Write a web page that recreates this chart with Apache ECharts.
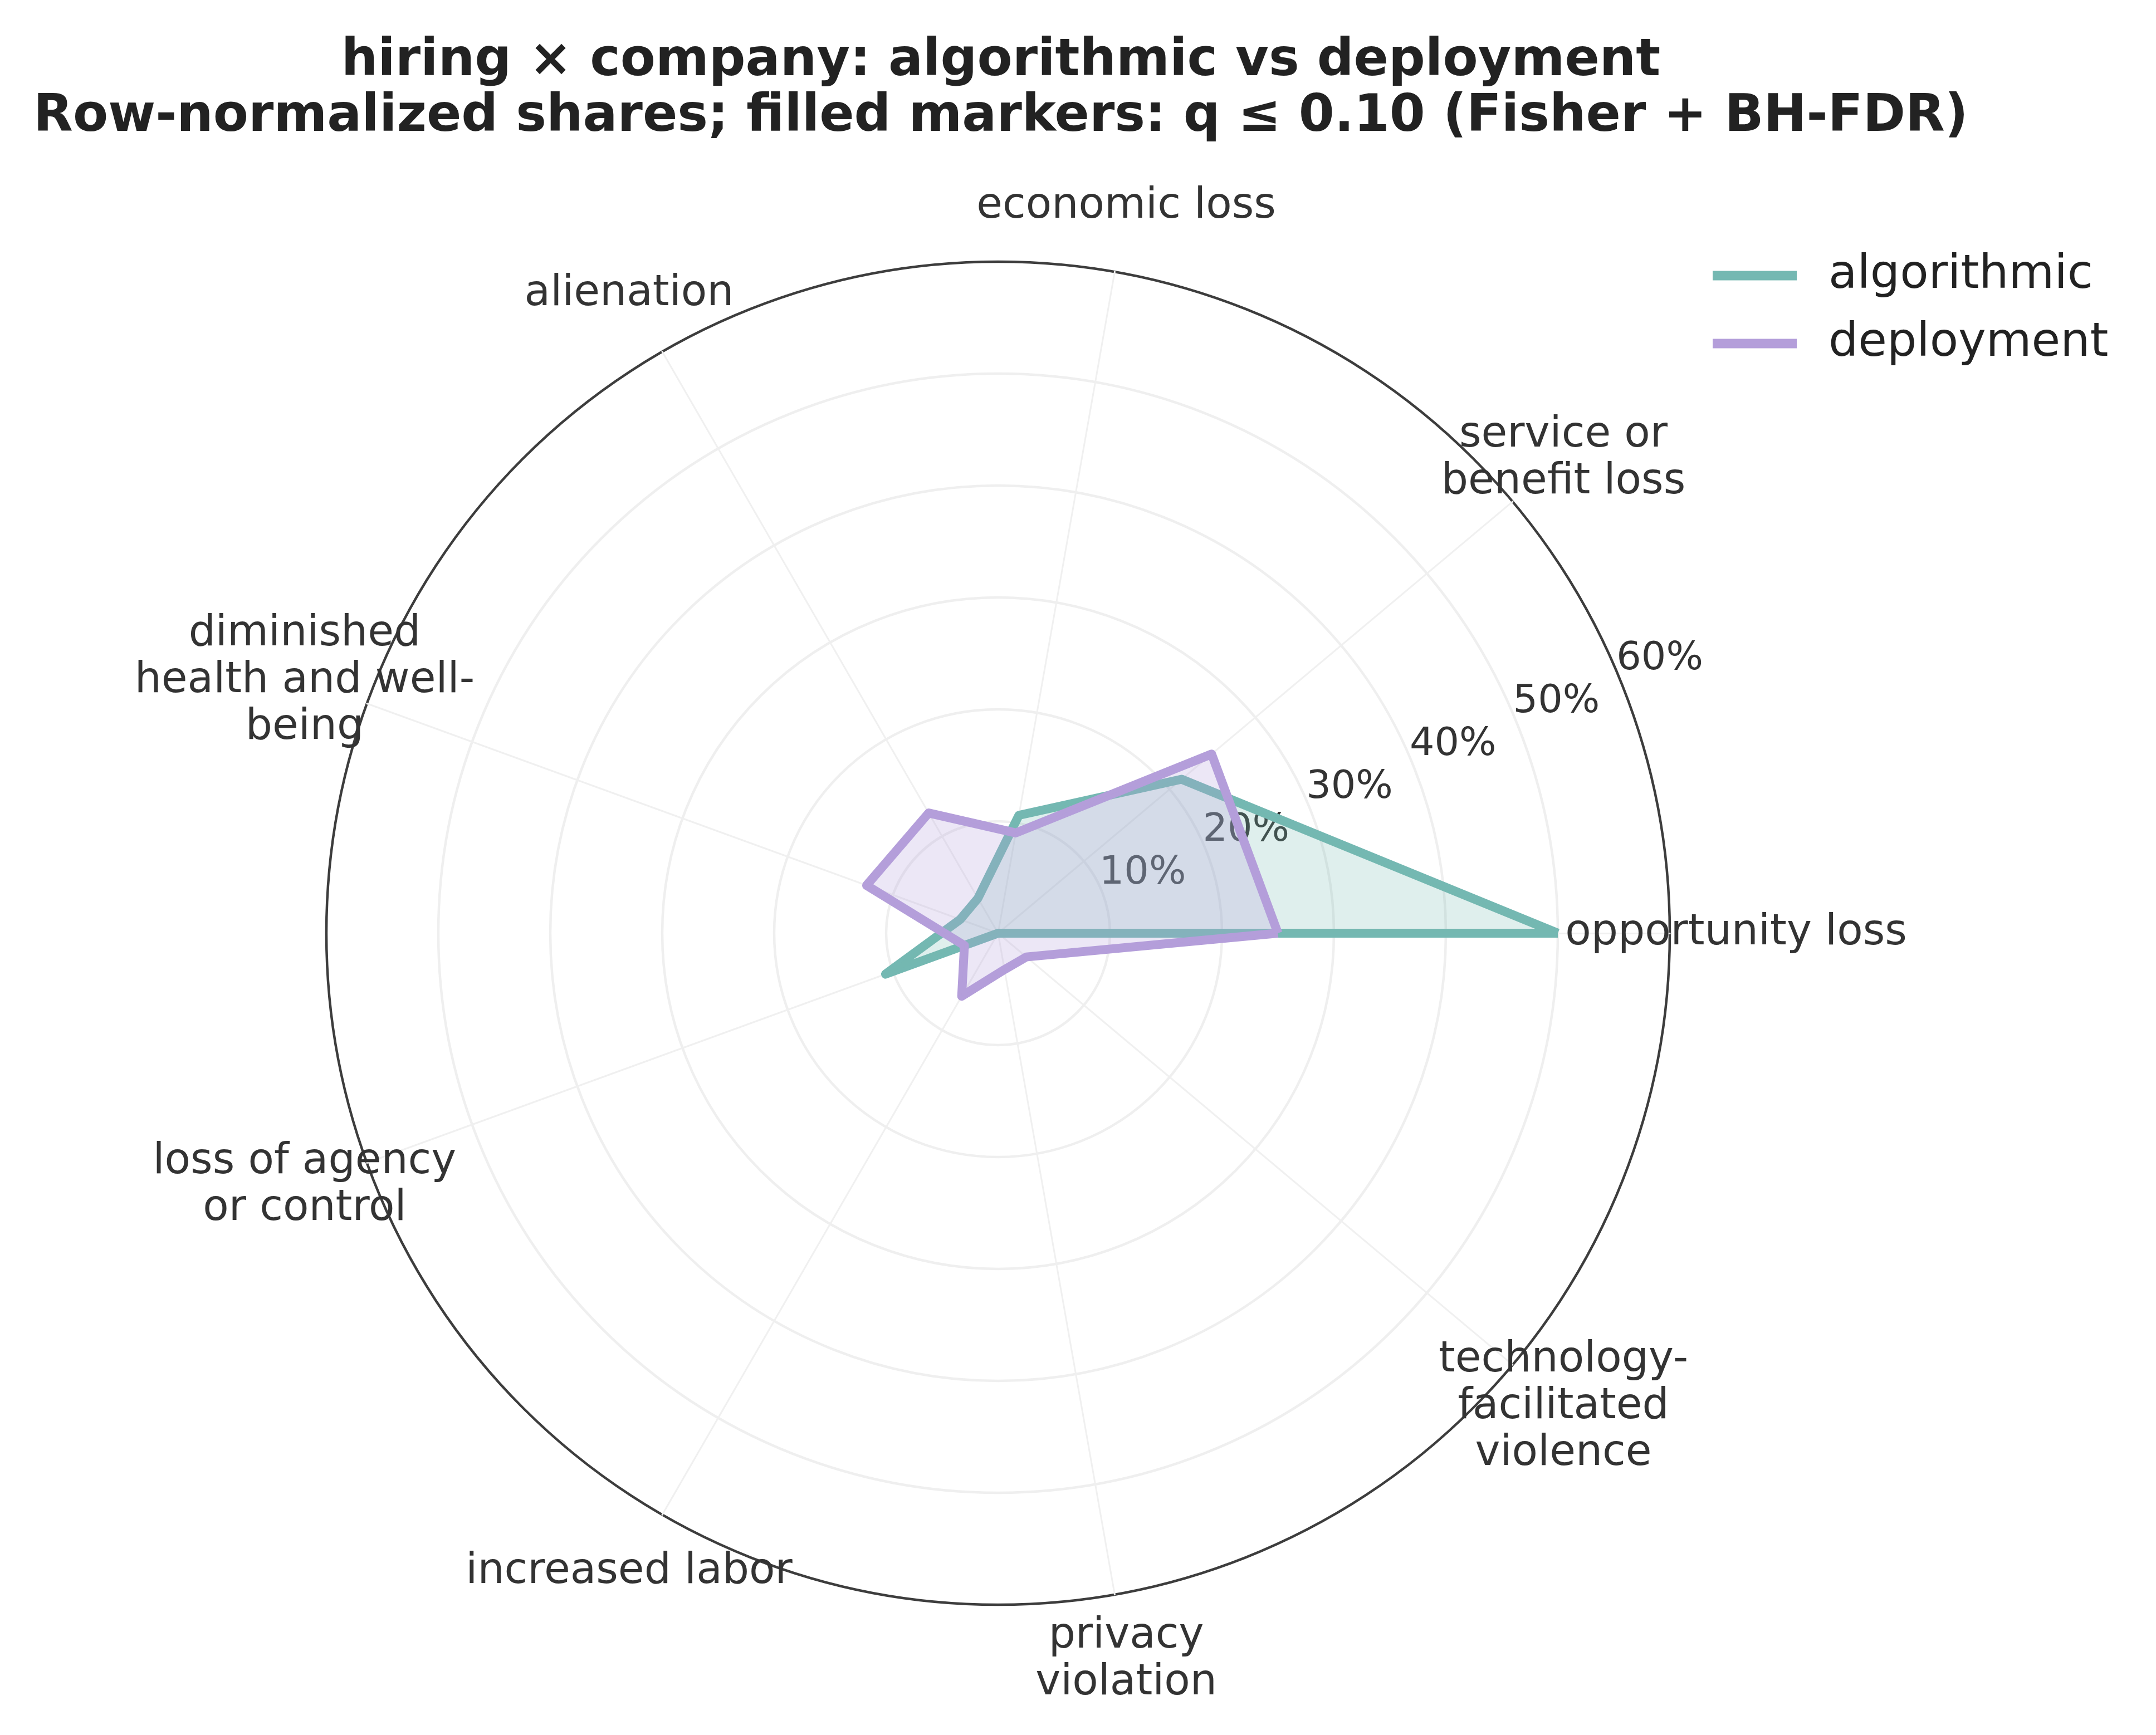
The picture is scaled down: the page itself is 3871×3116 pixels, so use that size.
<!DOCTYPE html>
<html lang="en">

<head>
    <meta charset="UTF-8">
    <title>hiring × company radar</title>
    <style>
        html,
        body {
            margin: 0;
            padding: 0;
            width: 100%;
            height: 100%;
            background: #fff;
        }
    </style>
</head>

<body>
    <div id="main" style="width: 3871px;height:3116px;"></div>
    <script src="https://cdn.jsdelivr.net/npm/echarts@6/dist/echarts.min.js"></script>
    <script type="text/javascript">
        // harm categories, counter-clockwise from 3 o'clock
        var categories = [
            'opportunity loss',
            'service or\nbenefit loss',
            'economic loss',
            'alienation',
            'diminished\nhealth and well-\nbeing',
            'loss of agency\nor control',
            'increased labor',
            'privacy\nviolation',
            'technology-\nfacilitated\nviolence'
        ];
        // row-normalized shares (%)
        var algorithmic = [50.0, 21.4, 10.7, 3.6, 3.6, 10.7, 0, 0, 0];
        var deployment = [25.0, 24.9, 9.1, 12.4, 12.5, 3.2, 6.5, 3.3, 3.3];
        var radialTicks = [0, 10, 20, 30, 40, 50, 60];

        var rMax = radialTicks[radialTicks.length - 1];
        var font = 'DejaVu Sans';
        var cx = 1792, cy = 1676, R = 1206;
        var labelShift = 80, labelAngle = 22.5;

        var myChart = echarts.init(document.getElementById('main'));

        var ringColors = radialTicks.map(function (t, i) {
            return i === radialTicks.length - 1 ? '#3d3d3d' : '#efefef';
        });

        var option = {
            backgroundColor: '#ffffff',
            animation: false,
            title: {
                text: 'hiring × company: algorithmic vs deployment\nRow-normalized shares; filled markers: q ≤ 0.10 (Fisher + BH-FDR)',
                left: cx,
                top: 56,
                textAlign: 'center',
                textStyle: {
                    fontFamily: font,
                    fontWeight: 'bold',
                    fontSize: 92,
                    lineHeight: 100,
                    color: '#222222'
                }
            },
            legend: {
                orient: 'vertical',
                left: 3070,
                top: 440,
                icon: 'rect',
                itemWidth: 151,
                itemHeight: 17,
                itemGap: 22,
                textStyle: {
                    fontFamily: font,
                    fontSize: 84,
                    lineHeight: 100,
                    color: '#222222',
                    padding: [0, 0, 0, 52]
                },
                data: ['algorithmic', 'deployment']
            },
            radar: [{
                center: [cx, cy],
                radius: R,
                startAngle: 0,
                shape: 'circle',
                splitNumber: radialTicks.length - 1,
                indicator: categories.map(function (c) {
                    return { name: c, min: 0, max: rMax };
                }),
                axisName: {
                    fontFamily: font,
                    fontSize: 76,
                    lineHeight: 84,
                    color: '#333333',
                    align: 'center',
                    verticalAlign: 'middle'
                },
                nameGap: 119,
                axisLine: { lineStyle: { color: '#f0f0f0', width: 3 } },
                axisTick: { show: false },
                axisLabel: { show: false },
                splitLine: { lineStyle: { color: ringColors, width: 4.5 } },
                splitArea: { show: false }
            }, {
                // only used to put the radial tick labels on the 22.5° ray
                center: [cx + labelShift * Math.cos(labelAngle * Math.PI / 180),
                         cy - labelShift * Math.sin(labelAngle * Math.PI / 180)],
                radius: R,
                startAngle: labelAngle,
                shape: 'circle',
                splitNumber: radialTicks.length - 1,
                indicator: [{ name: '', min: 0, max: rMax }],
                axisName: { show: false },
                axisLine: { show: false },
                axisTick: { show: false },
                splitLine: { show: false },
                splitArea: { show: false },
                axisLabel: {
                    show: true,
                    margin: 0,
                    align: 'center',
                    verticalAlign: 'middle',
                    fontFamily: font,
                    fontSize: 70,
                    color: '#333333',
                    formatter: function (v) {
                        return v === 0 ? '' : v + '%';
                    }
                }
            }],
            series: [{
                type: 'radar',
                radarIndex: 0,
                symbol: 'none',
                data: [{
                    name: 'algorithmic',
                    value: algorithmic,
                    itemStyle: { color: '#74b8b2' },
                    lineStyle: { color: '#74b8b2', width: 16, join: 'round' },
                    areaStyle: { color: '#74b8b2', opacity: 0.23 }
                }, {
                    name: 'deployment',
                    value: deployment,
                    itemStyle: { color: '#b49eda' },
                    lineStyle: { color: '#b49eda', width: 16, join: 'round' },
                    areaStyle: { color: '#b49eda', opacity: 0.25 }
                }]
            }]
        };
        myChart.setOption(option);
    </script>
</body>

</html>
